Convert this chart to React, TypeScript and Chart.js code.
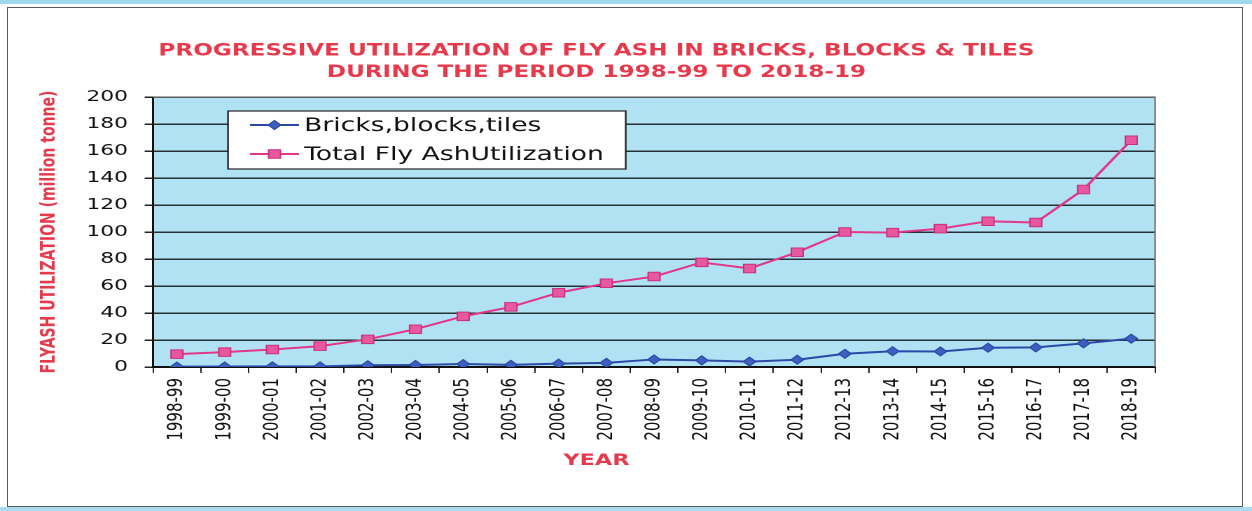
import React, { useEffect, useRef } from 'react';
import { Chart, registerables } from 'chart.js';

Chart.register(...registerables);

const categories = [
  '1998-99', '1999-00', '2000-01', '2001-02', '2002-03', '2003-04', '2004-05',
  '2005-06', '2006-07', '2007-08', '2008-09', '2009-10', '2010-11', '2011-12',
  '2012-13', '2013-14', '2014-15', '2015-16', '2016-17', '2017-18', '2018-19',
];
const bricksBlocksTiles = [
  0.3, 0.4, 0.5, 0.5, 1.3, 1.5, 2.2, 1.6, 2.5, 3.1, 5.6, 4.9, 4.0, 5.4,
  9.8, 11.7, 11.5, 14.3, 14.5, 17.5, 21.0,
];
const totalFlyAshUtilization = [
  9.5, 11, 13, 15.5, 20.5, 28, 37.5, 44.5, 55, 62, 67, 77.5, 73, 85,
  100, 99.5, 102.5, 108, 107, 131.5, 168,
];
const seriesLabels = ['Bricks,blocks,tiles', 'Total Fly AshUtilization'];
const titleLines = [
  'PROGRESSIVE UTILIZATION OF FLY ASH IN BRICKS, BLOCKS & TILES',
  'DURING THE PERIOD 1998-99 TO 2018-19',
];
const yAxisTitle = 'FLYASH UTILIZATION (million tonne)';
const xAxisTitle = 'YEAR';
const yMin = 0;
const yMax = 200;
const yStep = 20;

const PAGE_W = 1252;
const PAGE_H = 511;
const INNER_W = 894;
const STRETCH = PAGE_W / INNER_W;
const FONT = "'DejaVu Sans', Verdana, sans-serif";
const RED = '#e63a4c';

const plotBg = {
  id: 'plotBg',
  beforeDraw(chart: any) {
    const { ctx, chartArea: a } = chart;
    ctx.save();
    ctx.fillStyle = '#b0e2f4';
    ctx.fillRect(a.left, a.top, a.right - a.left, a.bottom - a.top);
    ctx.restore();
  },
  beforeDatasetsDraw(chart: any) {
    const { ctx, chartArea: a } = chart;
    ctx.save();
    ctx.strokeStyle = '#7a7a7a';
    ctx.lineWidth = 1.2;
    ctx.beginPath();
    ctx.moveTo(a.left, a.top);
    ctx.lineTo(a.right, a.top);
    ctx.lineTo(a.right, a.bottom);
    ctx.stroke();
    ctx.restore();
  },
};

const boxLegend = {
  id: 'boxLegend',
  afterDatasetsDraw(chart: any) {
    const { ctx, chartArea: a } = chart;
    const x0 = a.left + 53.5;
    const y0 = a.top + 14;
    const w = 284;
    const h = 58;
    ctx.save();
    ctx.fillStyle = '#ffffff';
    ctx.fillRect(x0, y0, w, h);
    ctx.strokeStyle = '#222';
    ctx.lineWidth = 1.2;
    ctx.strokeRect(x0, y0, w, h);
    chart.data.datasets.forEach((ds: any, i: number) => {
      const y = y0 + 14 + i * 29;
      ctx.strokeStyle = ds.borderColor;
      ctx.lineWidth = 2;
      ctx.beginPath();
      ctx.moveTo(x0 + 15.7, y);
      ctx.lineTo(x0 + 50.7, y);
      ctx.stroke();
      const mx = x0 + 33.2;
      ctx.fillStyle = ds.pointBackgroundColor;
      ctx.strokeStyle = ds.pointBorderColor;
      ctx.lineWidth = 1;
      ctx.beginPath();
      if (ds.pointStyle === 'rectRot') {
        const r = ds.pointRadius;
        ctx.moveTo(mx, y - r);
        ctx.lineTo(mx + r, y);
        ctx.lineTo(mx, y + r);
        ctx.lineTo(mx - r, y);
        ctx.closePath();
      } else {
        const s = ds.pointRadius * Math.SQRT1_2;
        ctx.rect(mx - s, y - s, 2 * s, 2 * s);
      }
      ctx.fill();
      ctx.stroke();
      ctx.fillStyle = '#111';
      ctx.font = `19px ${FONT}`;
      ctx.textBaseline = 'middle';
      ctx.textAlign = 'left';
      ctx.fillText(ds.label, x0 + 54.3, y + 1);
    });
    ctx.restore();
  },
};

export default function App() {
  const canvasRef = useRef<HTMLCanvasElement | null>(null);

  useEffect(() => {
    document.body.style.margin = '0';
    const canvas = canvasRef.current;
    if (!canvas) return;
    const chart = new Chart(canvas, {
      type: 'line',
      data: {
        labels: categories,
        datasets: [
          {
            label: seriesLabels[0],
            data: bricksBlocksTiles,
            borderColor: '#2b4aa8',
            borderWidth: 2,
            pointStyle: 'rectRot',
            pointRadius: 4.5,
            pointBackgroundColor: '#3f5fc0',
            pointBorderColor: '#2a48a4',
            pointBorderWidth: 1,
            tension: 0,
          },
          {
            label: seriesLabels[1],
            data: totalFlyAshUtilization,
            borderColor: '#e2378a',
            borderWidth: 2,
            pointStyle: 'rect',
            pointRadius: 6,
            pointBackgroundColor: '#e8589f',
            pointBorderColor: '#c8307c',
            pointBorderWidth: 1,
            tension: 0,
          },
        ],
      },
      options: {
        animation: false,
        responsive: true,
        maintainAspectRatio: false,
        devicePixelRatio: 2,
        layout: { padding: { left: 27, right: 69.2, top: 0, bottom: 0 } },
        plugins: {
          legend: { display: false },
          tooltip: { enabled: false },
          title: {
            display: true,
            text: titleLines,
            color: RED,
            font: { family: FONT, size: 16.5, weight: 'bold', lineHeight: 1.3 },
            padding: { top: 40.3, bottom: 13.8 },
          },
          subtitle: {
            display: true,
            position: 'bottom',
            text: xAxisTitle,
            color: RED,
            font: { family: FONT, size: 16, weight: 'bold', lineHeight: 1.2 },
            padding: { top: 9.4, bottom: 40.4 },
          },
        },
        scales: {
          x: {
            type: 'category',
            offset: true,
            afterFit: (s: any) => { s.height = 75; },
            grid: {
              display: true,
              drawOnChartArea: false,
              drawTicks: true,
              tickLength: 6,
              offset: true,
              color: '#222',
              lineWidth: 1,
            },
            border: { display: true, color: '#111', width: 2 },
            ticks: {
              minRotation: 90,
              maxRotation: 90,
              autoSkip: false,
              padding: 5,
              color: '#111',
              font: { family: FONT, size: 15 },
            },
          },
          y: {
            min: yMin,
            max: yMax,
            afterFit: (s: any) => { s.width = 82.3; },
            title: {
              display: true,
              text: yAxisTitle,
              color: RED,
              font: { family: FONT, size: 14, weight: 'bold', lineHeight: 1.2 },
              padding: { top: 0, bottom: 0 },
            },
            grid: {
              color: '#263033',
              lineWidth: 1.5,
              drawTicks: true,
              tickLength: 6,
              tickColor: '#222',
            },
            border: { display: true, color: '#111', width: 1.5 },
            ticks: {
              stepSize: yStep,
              padding: 12,
              color: '#111',
              font: { family: FONT, size: 15.5 },
            },
          },
        },
      },
      plugins: [plotBg, boxLegend],
    });
    return () => chart.destroy();
  }, []);

  return (
    <div
      style={{
        position: 'fixed',
        left: 0,
        top: 0,
        width: PAGE_W,
        height: PAGE_H,
        background: '#ffffff',
        overflow: 'hidden',
      }}
    >
      <div style={{ position: 'absolute', left: 0, top: 0, width: PAGE_W, height: 4, background: '#9fd8ef' }} />
      <div style={{ position: 'absolute', left: 0, bottom: 0, width: PAGE_W, height: 4, background: '#a9dcf0' }} />
      <div
        style={{
          position: 'absolute',
          left: 7,
          top: 7,
          width: 1236,
          height: 500,
          border: '1.5px solid #5a5a5a',
          boxSizing: 'border-box',
        }}
      />
      <div
        style={{
          position: 'absolute',
          left: 0,
          top: 0,
          width: INNER_W,
          height: PAGE_H,
          transform: `scaleX(${STRETCH})`,
          transformOrigin: '0 0',
        }}
      >
        <canvas ref={canvasRef} />
      </div>
    </div>
  );
}
